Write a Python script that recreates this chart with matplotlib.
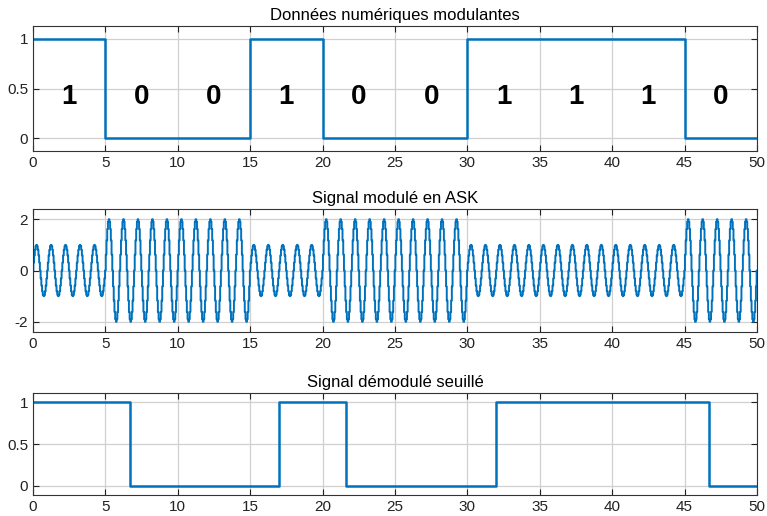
import matplotlib.pyplot as plt
import numpy as np

plt.rcParams['font.family'] = ['Liberation Sans', 'DejaVu Sans']

# donnees
bits = [1, 0, 0, 1, 0, 0, 1, 1, 1, 0]
Tb = 5                      # duree d'un bit
amp_ask = [1, 2, 2, 1, 2, 2, 1, 1, 1, 2]   # amplitude de la porteuse par bit
f_carrier = 1.0
t_demod = [0, 6.7, 17.0, 21.65, 32.0, 46.7, 50]
v_demod = [1, 0, 1, 0, 1, 0, 0]

blue = '#0072BD'

fig = plt.figure(figsize=(7.67, 5.16), dpi=100)
W, H = 767, 516
def add_ax(x0, y0, x1, y1):
    return fig.add_axes([x0 / W, 1 - y1 / H, (x1 - x0) / W, (y1 - y0) / H])

ax1 = add_ax(33, 26, 757, 151)
ax2 = add_ax(33, 209, 757, 332)
ax3 = add_ax(33, 393, 757, 495)

def style(ax, yt, ylim, title):
    ax.set_xlim(0, 50)
    ax.set_ylim(*ylim)
    ax.set_xticks(np.arange(0, 51, 5))
    ax.set_yticks(yt)
    ax.set_yticklabels([('%g' % v) for v in yt])
    ax.grid(True, color='#d0d0d0', linewidth=0.9)
    ax.tick_params(direction='in', top=True, right=True, labelsize=11,
                   length=4, colors='#222222')
    for s in ax.spines.values():
        s.set_color('#333333')
        s.set_linewidth(0.8)
    ax.set_title(title, fontsize=12, pad=4)
    ax.set_axisbelow(True)

# 1 : donnees numeriques
tb = np.arange(len(bits) + 1) * Tb
ax1.step(tb, bits + [bits[-1]], where='post', color=blue, lw=1.8)
for i, b in enumerate(bits):
    ax1.text(tb[i] + Tb / 2, 0.41, str(b), ha='center', va='center',
             fontsize=20, fontweight='bold')
style(ax1, [0, 0.5, 1], (-0.13, 1.13), 'Données numériques modulantes')

# 2 : signal module ASK
t = np.arange(0, 50.0001, 0.05)
idx = np.minimum((t // Tb).astype(int), len(bits) - 1)
a = np.array(amp_ask)[idx]
s = a * np.sin(2 * np.pi * f_carrier * t)
ax2.plot(t, s, color=blue, lw=1.4, drawstyle='steps-mid')
style(ax2, [-2, 0, 2], (-2.4, 2.4), 'Signal modulé en ASK')

# 3 : signal demodule seuille
ax3.step(t_demod, v_demod, where='post', color=blue, lw=1.8)
style(ax3, [0, 0.5, 1], (-0.11, 1.11), 'Signal démodulé seuillé')

fig.savefig('out.png', dpi=100)
